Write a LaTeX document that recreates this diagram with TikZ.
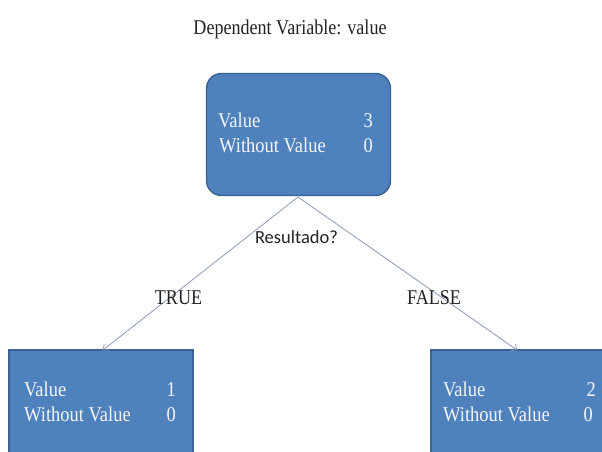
\documentclass[tikz,border=0pt]{standalone}
\usepackage{fontspec}
\setmainfont{Liberation Serif}
\newfontfamily\calibrif{Carlito}
\usetikzlibrary{arrows.meta}
\definecolor{boxfill}{HTML}{4F81BD}
\definecolor{boxedge}{HTML}{3A6393}
\definecolor{boxtext}{HTML}{F4F6FA}
\definecolor{linkcol}{HTML}{8A99B8}
\definecolor{inktext}{HTML}{222222}
\tikzset{
  treebox/.style={draw=boxedge, fill=boxfill, line width=1.4pt,
    minimum width=184pt, minimum height=122pt, inner sep=0pt},
  intext/.style={font=\fontsize{21}{25}\selectfont, text=boxtext,
    inner sep=0pt, xscale=0.88},
  serifcap/.style={font=\fontsize{21}{25}\selectfont, text=inktext,
    inner sep=0pt, xscale=0.86}
}
\tikzset{
  link/.style={draw=linkcol, line width=0.8pt,
    -{Straight Barb[length=4pt,width=8pt]}}
}
\begin{document}
\begin{tikzpicture}[x=1pt,y=-1pt]
\useasboundingbox (0,0) rectangle (602,452);
\clip (0,0) rectangle (602,452);

% title
\node[serifcap, anchor=base] (title) at (290,35) {Dependent Variable: value};

% root node
\node[treebox, rounded corners=15pt] (root) at (298.5,134.5) {};
\node[intext, anchor=base west] (rootv) at (218,127) {Value};
\node[intext, anchor=base east] (rootvn) at (373,127) {3};
\node[intext, anchor=base west] (rootw) at (219,152) {Without Value};
\node[intext, anchor=base east] (rootwn) at (373,152) {0};

% leaf nodes
\node[treebox, minimum height=130pt] (left) at (101,415) {};
\node[intext, anchor=base west] (leftv) at (24,396) {Value};
\node[intext, anchor=base east] (leftvn) at (176,396) {1};
\node[intext, anchor=base west] (leftw) at (24,421) {Without Value};
\node[intext, anchor=base east] (leftwn) at (176,421) {0};

\node[treebox, minimum height=130pt] (right) at (523,415) {};
\node[intext, anchor=base west] (rightv) at (443,396) {Value};
\node[intext, anchor=base east] (rightvn) at (596,396) {2};
\node[intext, anchor=base west] (rightw) at (443,421) {Without Value};
\node[intext, anchor=base east] (rightwn) at (593,421) {0};

% split
\coordinate (split) at (298,197);
\coordinate (lefttip) at (103,350);
\coordinate (righttip) at (517,350);
\draw[link] (split) -- (lefttip);
\draw[link] (split) -- (righttip);

% labels
\node[font=\calibrif\fontsize{18.5}{22}\selectfont, text=inktext, inner sep=0pt, anchor=base] (question) at (296.5,243) {Resultado?};
\node[serifcap, anchor=base] (truelbl) at (178.5,304) {TRUE};
\node[serifcap, anchor=base] (falselbl) at (434,304) {FALSE};
\end{tikzpicture}
\end{document}
